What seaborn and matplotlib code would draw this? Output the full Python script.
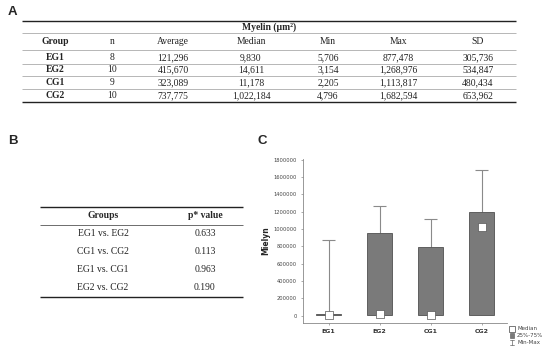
"""
Myelin summary figure: two tables (A, B) and a min/max + IQR box chart (C)
"""

import numpy as np
import pandas as pd
import matplotlib
matplotlib.use("Agg")
import matplotlib.pyplot as plt
import seaborn as sns
from matplotlib.patches import Rectangle

# Table A data
header_a = ["Group", "n", "Average", "Median", "Min", "Max", "SD"]
groups = ["EG1", "EG2", "CG1", "CG2"]
n_vals = ["8", "10", "9", "10"]
avg_vals = ["121,296", "415,670", "323,089", "737,775"]
median_txt = ["9,830", "14,611", "11,178", "1,022,184"]
min_txt = ["5,706", "3,154", "2,205", "4,796"]
max_txt = ["877,478", "1,268,976", "1,113,817", "1,682,594"]
sd_txt = ["305,736", "534,847", "480,434", "653,962"]

# Table B data
comparisons = ["EG1 vs. EG2", "CG1 vs. CG2", "EG1 vs. CG1", "EG2 vs. CG2"]
p_values = ["0.633", "0.113", "0.963", "0.190"]

# Chart C data
medians = [9830, 14611, 11178, 1022184]
mins = [5706, 3154, 2205, 4796]
maxs = [877478, 1268976, 1113817, 1682594]
q1 = [6500, 6000, 4500, 8000]
q3 = [22000, 960000, 795000, 1195000]
y_ticks = [0, 200000, 400000, 600000, 800000, 1000000, 1200000, 1400000, 1600000, 1800000]

W, H = 550, 355
SERIF = ["Liberation Serif", "DejaVu Serif"]
FS = 6.9

sns.set_theme(style="white")
plt.rcParams["font.family"] = ["DejaVu Sans"]

fig = plt.figure(figsize=(W / 100, H / 100), dpi=100)
fig.patch.set_facecolor("white")

# overlay axes in pixel coordinates for tables and labels
ov = fig.add_axes([0, 0, 1, 1])
ov.set_xlim(0, W)
ov.set_ylim(H, 0)
ov.axis("off")

def hline(y, x0, x1, lw=0.5, color="#9a9a9a"):
    ov.plot([x0, x1], [y, y], color=color, lw=lw, solid_capstyle="butt")

# panel letters
for lbl, (px, py) in {"A": (8, 12), "B": (8, 141), "C": (258, 141)}.items():
    ov.text(px, py, lbl, fontsize=9.5, fontweight="bold", ha="left", va="center",
            family=["Liberation Sans", "DejaVu Sans"])

# ---- Table A ----
tx0, tx1 = 22, 516
col_x = [55, 112, 173, 251, 328, 398, 478]
hline(20.5, tx0, tx1, lw=1.0, color="#222222")
ov.text((tx0 + tx1) / 2, 27, "Myelin (\u00b5m\u00b2)", fontsize=FS, fontweight="bold",
        ha="center", va="center", family=SERIF)
hline(33, tx0, tx1)
for cx, h in zip(col_x, header_a):
    ov.text(cx, 41.5, h, fontsize=FS, fontweight="bold" if h == "Group" else "normal",
            ha="center", va="center", family=SERIF, color="#222222")
hline(50, tx0, tx1)
row_y = [57.5, 70, 82.5, 95.5]
rows = list(zip(groups, n_vals, avg_vals, median_txt, min_txt, max_txt, sd_txt))
for i, (ry, row) in enumerate(zip(row_y, rows)):
    for j, (cx, val) in enumerate(zip(col_x, row)):
        ov.text(cx, ry, val, fontsize=FS, fontweight="bold" if j == 0 else "normal",
                ha="center", va="center", family=SERIF, color="#222222")
    if i < 3:
        hline(ry + 6.2, tx0, tx1)
hline(102, tx0, tx1, lw=1.0, color="#222222")

# ---- Table B ----
bx0, bx1 = 40, 243
hline(206.5, bx0, bx1, lw=1.0, color="#222222")
ov.text(103, 216, "Groups", fontsize=FS, fontweight="bold", ha="center", va="center", family=SERIF)
ov.text(205, 216, "p* value", fontsize=FS, fontweight="bold", ha="center", va="center", family=SERIF)
hline(225, bx0, bx1, lw=0.6, color="#555555")
for ry, comp, pv in zip([234, 252, 270, 288], comparisons, p_values):
    ov.text(103, ry, comp, fontsize=FS, ha="center", va="center", family=SERIF, color="#222222")
    ov.text(205, ry, pv, fontsize=FS, ha="center", va="center", family=SERIF, color="#222222")
hline(297, bx0, bx1, lw=1.0, color="#222222")

# ---- Chart C ----
ax = fig.add_axes([303 / W, 1 - 323 / H, 204 / W, 164 / H])
df = pd.DataFrame({"group": groups, "q1": q1, "q3": q3, "median": medians,
                   "min": mins, "max": maxs})
df["iqr"] = df["q3"] - df["q1"]

pos = np.arange(len(groups))
cap = 0.12
ax.vlines(pos, df["q3"], df["max"], color="#8a8a8a", lw=0.8, zorder=1)
ax.hlines(df["max"], pos - cap, pos + cap, color="#8a8a8a", lw=0.8, zorder=1)
ax.vlines(pos, df["min"], df["q1"], color="#8a8a8a", lw=0.8, zorder=1)

sns.barplot(data=df, x="group", y="iqr", bottom=df["q1"].values, width=0.5,
            color="#7a7a7a", edgecolor="#505050", linewidth=0.6, saturation=1,
            ax=ax, zorder=2)
sns.scatterplot(data=df, x="group", y="median", marker="s", s=30, color="white",
                edgecolor="#555555", linewidth=0.5, ax=ax, zorder=3, legend=False)

ax.set_xlim(-0.5, 3.5)
ax.set_ylim(-85000, 1810000)
ax.set_yticks(y_ticks)
ax.set_yticklabels([str(t) for t in y_ticks], fontsize=3.7, color="#444444")
ax.set_xticks(pos)
ax.set_xticklabels(groups, fontsize=4.5, fontweight="bold", color="#333333")
ax.set_xlabel("")
ax.set_ylabel("Mielyn", fontsize=5.5, fontweight="bold", labelpad=2)
for side in ["top", "right"]:
    ax.spines[side].set_visible(False)
for side in ["left", "bottom"]:
    ax.spines[side].set_color("#888888")
    ax.spines[side].set_linewidth(0.6)
ax.tick_params(axis="both", which="both", length=1.5, width=0.5, color="#888888", pad=3)
ax.tick_params(axis="both", which="both", left=True, bottom=True)

# legend (drawn in pixel space)
ov.add_patch(Rectangle((509, 325.5), 6, 6, facecolor="white", edgecolor="#444444", lw=0.5))
ov.add_patch(Rectangle((510, 333), 4, 5, facecolor="#7a7a7a", edgecolor="#555555", lw=0.4))
ov.plot([512, 512], [339.5, 345], color="#666666", lw=0.5)
ov.plot([510, 514], [339.5, 339.5], color="#666666", lw=0.5)
ov.plot([510, 514], [345, 345], color="#666666", lw=0.5)
for ly, txt in zip([328.5, 335.5, 342.3], ["Median", "25%-75%", "Min-Max"]):
    ov.text(517, ly, txt, fontsize=4, color="#444444", ha="left", va="center")

fig.savefig("out.png", dpi=100, facecolor="white")
